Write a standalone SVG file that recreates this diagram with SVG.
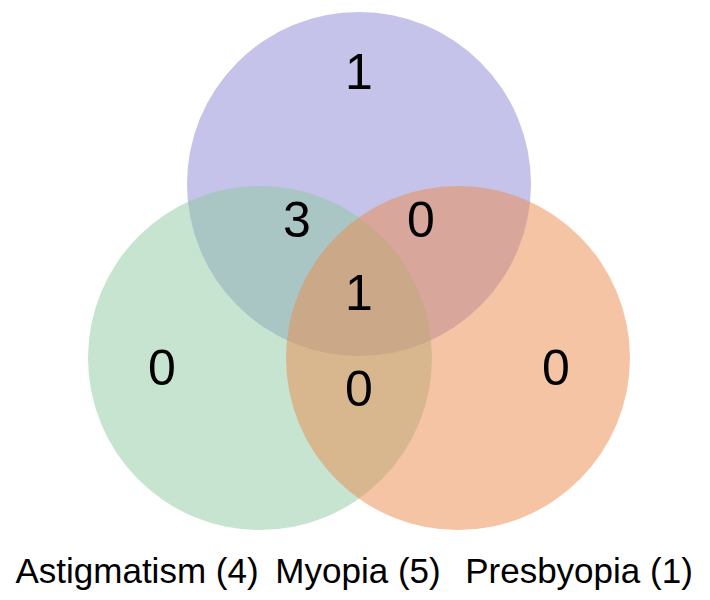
<svg xmlns="http://www.w3.org/2000/svg" width="710" height="600" viewBox="0 0 710 600">
<style>
.c{fill-opacity:0.5;stroke:none}
.n{font-family:"Liberation Sans",Arial,sans-serif;font-size:50px;fill:#000;text-anchor:middle}
.l{font-family:"Liberation Sans",Arial,sans-serif;font-size:35px;fill:#000;text-anchor:middle}
</style>
<rect width="710" height="600" fill="#fff"/>
<g id="myopia"><circle class="c" cx="359" cy="184" r="172" fill="rgb(139,135,211)"/></g>
<g id="astigmatism"><circle class="c" cx="260" cy="358" r="172" fill="rgb(141,201,161)"/></g>
<g id="presbyopia"><circle class="c" cx="458" cy="358" r="172" fill="rgb(235,137,75)"/></g>
<g id="counts">
<text class="n" x="359" y="89">1</text>
<text class="n" x="297" y="237">3</text>
<text class="n" x="421" y="237">0</text>
<text class="n" x="359" y="310">1</text>
<text class="n" x="162" y="385">0</text>
<text class="n" x="359" y="406">0</text>
<text class="n" x="556" y="385">0</text>
</g>
<g id="labels">
<text class="l" x="137" y="583">Astigmatism (4)</text>
<text class="l" x="358" y="583">Myopia (5)</text>
<text class="l" x="579" y="583">Presbyopia (1)</text>
</g>
<g id="connectors"/>
</svg>
